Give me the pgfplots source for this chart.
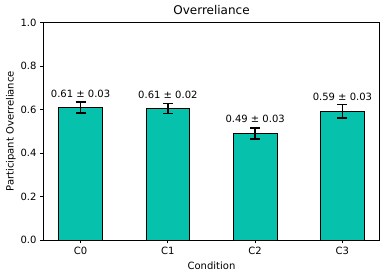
\documentclass[border=0pt]{standalone}
\usepackage{pgfplots}
\pgfplotsset{compat=1.18}
\usepackage{fontspec}
\setmainfont{DejaVu Sans}
\definecolor{barc}{HTML}{06C2AC}
\begin{document}
\begin{tikzpicture}[x=1pt,y=1pt]
\useasboundingbox (0,0) rectangle (386,278);
\begin{axis}[
  at={(43.5pt,38pt)}, anchor=south west,
  scale only axis, width=336pt, height=217.5pt,
  xmin=-0.425, xmax=3.425, ymin=0, ymax=1,
  xtick={0,1,2,3}, xticklabels={C0,C1,C2,C3},
  ytick={0,0.2,0.4,0.6,0.8,1.0},
  yticklabel style={/pgf/number format/.cd,fixed,fixed zerofill,precision=1},
  /pgf/number format/assume math mode=true,
  tick align=outside, major tick length=3.5pt,
  tick style={black, line width=0.8pt},
  axis line style={line width=0.8pt},
  tick label style={font=\fontsize{10}{12}\selectfont},
  xtick pos=bottom, ytick pos=left,
  xlabel={Condition}, ylabel={Participant Overreliance},
  label style={font=\fontsize{10}{12}\selectfont},
  title={Overreliance}, title style={font=\fontsize{12}{14}\selectfont, yshift=-2pt},
  ylabel style={yshift=-2pt},
  xlabel style={yshift=0pt},
  clip=false,
]
\addplot[ybar, bar width=0.5, fill=barc, draw=black, line width=0.8pt,
  error bars/.cd, y dir=both, y explicit,
  error bar style={line width=1.5pt, black},
  error mark options={rotate=90, mark size=5pt, line width=1.5pt, black}]
  coordinates {(0,0.610) +- (0,0.025) (1,0.605) +- (0,0.023) (2,0.490) +- (0,0.026) (3,0.592) +- (0,0.032)};
\node[font=\fontsize{10}{12}\selectfont] at (axis cs:0,0.672) {0.61 ± 0.03};
\node[font=\fontsize{10}{12}\selectfont] at (axis cs:1,0.668) {0.61 ± 0.02};
\node[font=\fontsize{10}{12}\selectfont] at (axis cs:2,0.558) {0.49 ± 0.03};
\node[font=\fontsize{10}{12}\selectfont] at (axis cs:3,0.657) {0.59 ± 0.03};
\end{axis}
\end{tikzpicture}
\end{document}
